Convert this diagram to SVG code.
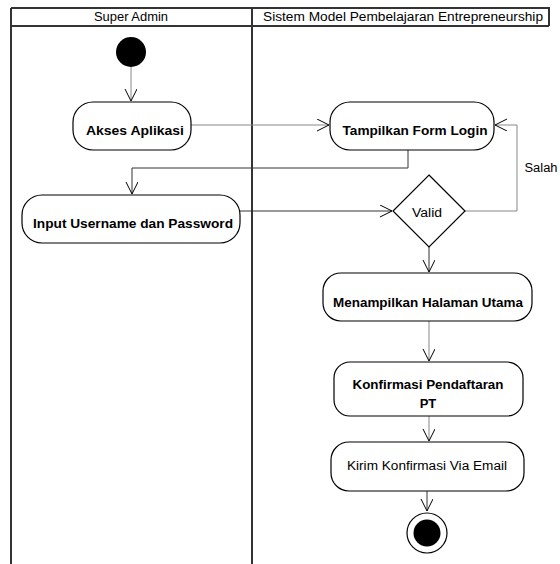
<svg xmlns="http://www.w3.org/2000/svg" width="560" height="564" viewBox="0 0 560 564">
  <style>
    .lane { fill: none; stroke: #333; stroke-width: 2; }
    .act { fill: #fff; stroke: #000; stroke-width: 1.2; }
    .lbl { font-family: "Liberation Sans", Arial, sans-serif; font-size: 13px; text-anchor: middle; fill: #000; }
    .b { font-weight: bold; }
    .hdr { font-family: "Liberation Sans", Arial, sans-serif; font-size: 12px; text-anchor: middle; fill: #000; }
    .flow { fill: none; stroke: #333; stroke-width: 1; }
    .flowl { fill: none; stroke: #888; stroke-width: 1; }
  </style>
  <defs>
    <marker id="open" markerWidth="14" markerHeight="14" refX="12" refY="6" orient="auto" markerUnits="userSpaceOnUse">
      <path d="M0,0 L12,6 L0,12" fill="none" stroke="#000" stroke-width="1"/>
    </marker>
  </defs>
  <rect width="560" height="564" fill="#fff"/>

  <!-- swimlanes -->
  <g id="lanes">
    <path class="lane" d="M11,8 H549 V26 M11,26 H549 M11,8 V564 M252,8 V564"/>
    <text class="hdr" x="131" y="21" textLength="74" lengthAdjust="spacingAndGlyphs">Super Admin</text>
    <text class="hdr" x="403" y="21" textLength="280" lengthAdjust="spacingAndGlyphs">Sistem Model Pembelajaran Entrepreneurship</text>
  </g>

  <!-- connectors -->
  <g id="connectors">
    <path class="flowl" d="M131,67 V101" marker-end="url(#open)"/>
    <path class="flowl" d="M191,125 H329" marker-end="url(#open)"/>
    <path class="flow" d="M408,150 V168 H132 V194" marker-end="url(#open)"/>
    <path class="flow" d="M240,211 H392" marker-end="url(#open)"/>
    <path class="flowl" d="M465,211 H517 V125 H495" marker-end="url(#open)"/>
    <text class="hdr" x="541" y="172" textLength="33" lengthAdjust="spacingAndGlyphs">Salah</text>
    <path class="flow" d="M429,247 V272" marker-end="url(#open)"/>
    <path class="flowl" d="M429,321 V361" marker-end="url(#open)"/>
    <path class="flowl" d="M429,416 V441" marker-end="url(#open)"/>
    <path class="flow" d="M427,491 V511" marker-end="url(#open)"/>
  </g>

  <g id="start">
    <circle cx="131" cy="52" r="15" fill="#000"/>
  </g>
  <g id="akses">
    <rect class="act" x="73" y="102" width="118" height="48" rx="20"/>
    <text class="lbl b" x="135" y="135" textLength="98" lengthAdjust="spacingAndGlyphs">Akses Aplikasi</text>
  </g>
  <g id="input">
    <rect class="act" x="22" y="195" width="218" height="48" rx="20"/>
    <text class="lbl b" x="133" y="228" textLength="200" lengthAdjust="spacingAndGlyphs">Input Username dan Password</text>
  </g>
  <g id="formlogin">
    <rect class="act" x="330" y="102" width="164" height="48" rx="20"/>
    <text class="lbl b" x="415" y="135" textLength="145" lengthAdjust="spacingAndGlyphs">Tampilkan Form Login</text>
  </g>
  <g id="valid">
    <path class="act" d="M429,175 L465,211 L429,247 L393,211 Z"/>
    <text class="hdr" x="427" y="217" textLength="30" lengthAdjust="spacingAndGlyphs">Valid</text>
  </g>
  <g id="halaman">
    <rect class="act" x="323" y="273" width="209" height="48" rx="18"/>
    <text class="lbl b" x="428" y="307" textLength="190" lengthAdjust="spacingAndGlyphs">Menampilkan Halaman Utama</text>
  </g>
  <g id="konfirmasi">
    <rect class="act" x="334" y="362" width="189" height="54" rx="16"/>
    <text class="lbl b" x="428" y="389" textLength="151" lengthAdjust="spacingAndGlyphs">Konfirmasi Pendaftaran</text>
    <text class="lbl b" x="428" y="408">PT</text>
  </g>
  <g id="email">
    <rect class="act" x="331" y="442" width="193" height="49" rx="18"/>
    <text class="hdr" x="427" y="470" textLength="160" lengthAdjust="spacingAndGlyphs">Kirim Konfirmasi Via Email</text>
  </g>
  <g id="end">
    <circle cx="427" cy="533" r="20" fill="#fff" stroke="#000" stroke-width="1.2"/>
    <circle cx="427" cy="533" r="13.5" fill="#000"/>
  </g>
</svg>
